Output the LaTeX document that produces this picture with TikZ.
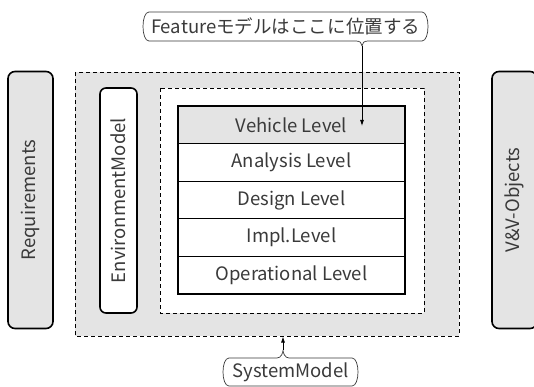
\documentclass[tikz,border=0pt]{standalone}
\usepackage{fontspec}
\setmainfont{Noto Sans CJK JP}
\usetikzlibrary{arrows.meta,positioning}
\definecolor{panelgray}{HTML}{E4E4E4}
\definecolor{inkgray}{HTML}{3A3A3A}

\begin{document}
\begin{tikzpicture}[x=1pt,y=-1pt,
  lbl/.style={text=inkgray,font=\fontsize{18.5}{22}\selectfont},
  sidebox/.style={lbl,draw,line width=1.6pt,rounded corners=7pt,fill=panelgray,
    rotate=90,minimum height=45pt,minimum width=257pt,inner sep=0pt},
  levelbox/.style={lbl,draw,line width=1.3pt,fill=white,minimum width=227pt,
    minimum height=37.6pt,inner sep=0pt,outer sep=0pt},
  frame/.style={dashed,line width=0.6pt,dash pattern=on 4pt off 3pt},
  callout/.style={line width=0.7pt,draw=inkgray},
  tip/.style={-{Latex[length=6pt,width=4pt]},line width=0.8pt}]
\useasboundingbox (0,0) rectangle (534,387);

% system model frame and inner level frame
\draw[frame,fill=panelgray] (75,72) rectangle (459,336);
\draw[frame,fill=white] (160,88) rectangle (424,313);

% side boxes
\node[sidebox] (req) at (30.5,200) {Requirements};
\node[sidebox] (vvobj) at (514.5,200) {V\&V-Objects};
\node[sidebox,fill=white,minimum width=225pt,minimum height=37pt,rounded corners=6pt]
  (env) at (118.5,200.5) {EnvironmentModel};

% levels
\node[levelbox,fill=panelgray] (vehicle) at (291.5,124.8) {Vehicle Level};
\node[levelbox,below=0pt of vehicle] (analysis) {Analysis Level};
\node[levelbox,below=0pt of analysis] (design) {Design Level};
\node[levelbox,below=0pt of design] (impl) {Impl.Level};
\node[levelbox,below=0pt of impl] (oper) {Operational Level};

% callout on top
\node[lbl] (feature) at (285.5,26.5) {Featureモデルはここに位置する};
\coordinate (ftip) at (362,46);
\coordinate (vtip) at (362,126);
\draw[callout] (ftip) .. controls (362,43) and (360,41) .. (356,41) -- (149,41)
  .. controls (141,41) and (141,12) .. (149,12) -- (422,12)
  .. controls (430,12) and (430,41) .. (422,41) -- (368,41)
  .. controls (364,41) and (362,43) .. (ftip);
\draw[tip] (ftip) -- (vtip);

% callout at bottom
\node[lbl] (sysmodel) at (290.5,372) {SystemModel};
\coordinate (stip) at (283,350);
\coordinate (sframe) at (283,336.5);
\draw[callout] (stip) .. controls (283,353) and (281,358) .. (277,358) -- (229,358)
  .. controls (221,358) and (221,386) .. (229,386) -- (352,386)
  .. controls (360,386) and (360,358) .. (352,358) -- (289,358)
  .. controls (285,358) and (283,353) .. (stip);
\draw[tip] (stip) -- (sframe);
\end{tikzpicture}
\end{document}
